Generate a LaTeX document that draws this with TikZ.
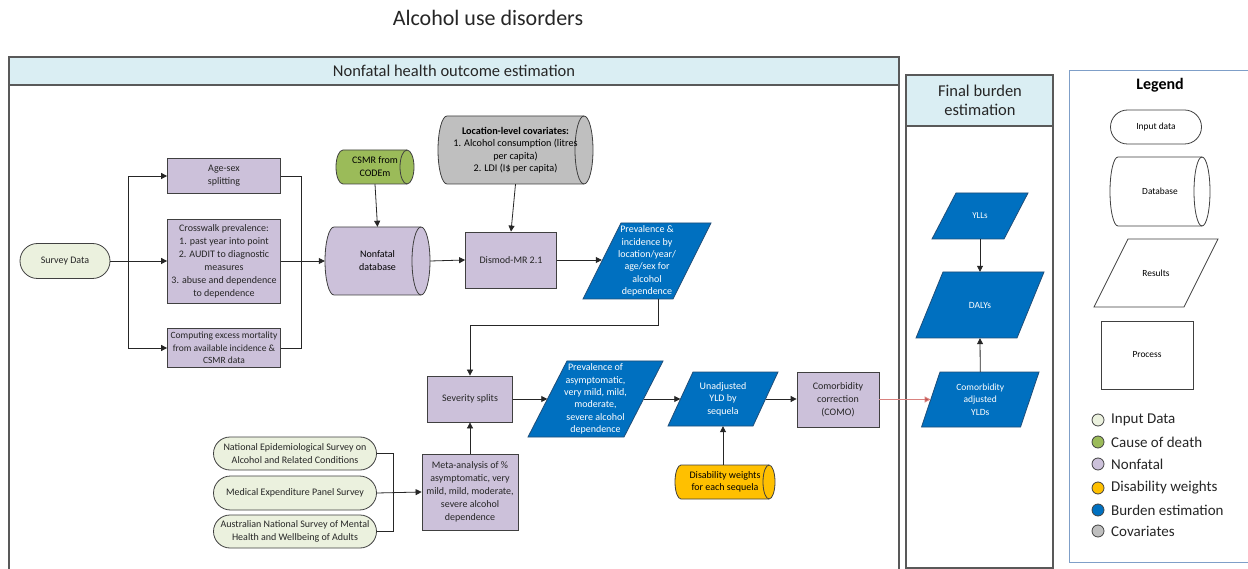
\documentclass[tikz,border=0pt]{standalone}
\usepackage{fontspec}
\setmainfont{Carlito}
\usetikzlibrary{arrows.meta,shapes.misc,calc}
\definecolor{purp}{HTML}{CCC1DA}
\definecolor{lgreen}{HTML}{EBF1DE}
\definecolor{cgreen}{HTML}{9BBB59}
\definecolor{cgrey}{HTML}{BFBFBF}
\definecolor{corange}{HTML}{FFC000}
\definecolor{cblue}{HTML}{0070C0}
\definecolor{bedge}{HTML}{1F4E79}
\definecolor{hdr}{HTML}{DAEEF3}
\definecolor{edgec}{HTML}{404040}
\definecolor{linec}{HTML}{262626}
\definecolor{framec}{HTML}{595959}
\definecolor{legc}{HTML}{7F9FC8}
\definecolor{redl}{HTML}{D9827F}
\definecolor{redh}{HTML}{C0504D}
\newcommand\fsz[2]{\fontsize{#1}{#2}\selectfont}
% parallelogram: name, top-left x, top-right x, top y, bottom y, slant, font, text
\newcommand\para[8]{%
  \draw[bedge, line width=0.8pt, fill=cblue] (#2,#4) -- (#3,#4) -- (#3-#6,#5) -- (#2-#6,#5) -- cycle;
  \node[inner sep=0, minimum width={#3-#2}, minimum height={#5-#4}, align=center, text=white, font=#7] (#1) at ({(#2+#3-#6)/2},{(#4+#5)/2}) {#8};}
% legend parallelogram (white)
\newcommand\wpara[8]{%
  \draw[edgec, line width=0.8pt, fill=white] (#2,#4) -- (#3,#4) -- (#3-#6,#5) -- (#2-#6,#5) -- cycle;
  \node[inner sep=0, minimum width={#3-#2}, minimum height={#5-#4}, align=center, font=#7] (#1) at ({(#2+#3-#6)/2},{(#4+#5)/2}) {#8};}
% cylinder: name, xl, yt, xr, yb, rx, fill, font, text
\newcommand\cyl[9]{%
  \pgfmathsetmacro\cylry{(#5-#3)/2}%
  \draw[edgec, line width=0.8pt, fill=#7] (#2+#6,#3) -- (#4-#6,#3)
     arc[start angle=-90, end angle=90, x radius=#6, y radius=\cylry] -- (#2+#6,#5)
     arc[start angle=90, end angle=270, x radius=#6, y radius=\cylry] -- cycle;
  \draw[edgec, line width=0.8pt] (#4-#6,#3) arc[start angle=270, end angle=90, x radius=#6, y radius=\cylry];
  \node[inner sep=0, minimum width={#4-#2}, minimum height={#5-#3}, align=center, font=#8] (#1) at ({(#2+#4)/2},{(#3+#5)/2}) {#9};}
\begin{document}
\begin{tikzpicture}[x=1pt,y=-1pt,
  font=\fsz{10}{13},
  proc/.style={draw=edgec, fill=purp, line width=0.8pt, align=center, inner sep=0, text=black!85},
  inp/.style={rounded rectangle, draw=edgec, fill=lgreen, line width=0.8pt, align=center, inner sep=0, text=black!85},
  ln/.style={draw=linec, line width=0.8pt},
  arr/.style={draw=linec, line width=0.8pt, -{Triangle[length=6pt,width=6pt]}},
  frame/.style={draw=framec, line width=1.2pt},
  legdot/.style={circle, draw=edgec, line width=0.8pt, minimum size=12pt, inner sep=0},
  legtxt/.style={anchor=west, inner sep=0, font=\fsz{15}{17}, text=black!85}]
\useasboundingbox (0,0) rectangle (1248,569);
\fill[white] (0,0) rectangle (1248,569);

% title
\node[font=\fsz{22}{25}, text=black!85] (title) at (488,18) {Alcohol use disorders};

% frames
\draw[frame] (9,57) rectangle (899,580);
\draw[frame, fill=hdr] (9,57) rectangle (899,85);
\node[font=\fsz{16.5}{18}, text=black!85] (nfh) at (454,71) {Nonfatal health outcome estimation};

\draw[frame] (906,75) rectangle (1053,568);
\draw[frame, fill=hdr] (906,75) rectangle (1053,126);
\node[font=\fsz{16.5}{19}, align=center, text=black!85] (fbh) at (980,100) {Final burden\\estimation};

\draw[draw=legc, line width=0.9pt] (1069,70) rectangle (1262,562);
\node[font=\bfseries\fsz{16}{18}] (legt) at (1160,85) {Legend};

% left column
\node[inp, minimum width=90pt, minimum height=35pt] (survey) at (65,261) {Survey Data};
\node[proc, minimum width=113pt, minimum height=35pt] (age) at (224,176) {Age-sex\\splitting};
\node[proc, minimum width=113pt, minimum height=84pt] (cross) at (224,261)
  {Crosswalk prevalence:\\1. past year into point\\2. AUDIT to diagnostic\\measures\\3. abuse and dependence\\to dependence};
\node[proc, minimum width=113pt, minimum height=39pt, font=\fsz{9.5}{12.5}] (cem) at (224,348)
  {Computing excess mortality\\from available incidence \&\\CSMR data};

\coordinate (split) at (128,261);
\coordinate (merge) at (301,261);
\draw[arr] (survey.east) -- (cross.west);
\draw[arr] (split) |- (age.west);
\draw[arr] (split) |- (cem.west);
\draw[ln] (age.east) -| (merge);
\draw[ln] (cem.east) -| (merge);

% databases
\cyl{ndb}{325}{227}{430}{295}{9}{purp}{\fsz{10}{13}}{Nonfatal\\database}
\cyl{csmr}{336}{150}{414}{184}{7}{cgreen}{\fsz{10}{13}}{CSMR from\\CODEm}
\cyl{cov}{438}{116}{593}{184}{9}{cgrey}{\fsz{10.2}{12.5}}{\textbf{Location-level covariates:}\\1. Alcohol consumption (litres\\per capita)\\2. LDI (I\$ per capita)}
\draw[arr] (cross.east) -- (ndb.west);
\draw[arr] (csmr.south) -- (ndb.north);

\node[proc, minimum width=91pt, minimum height=56pt] (dismod) at (511,260) {Dismod-MR 2.1};
\draw[arr] (cov.south) -- (dismod.north);
\draw[arr] (ndb.east) -- (dismod.west);

\para{prev}{621}{711}{223}{299}{38}{\fsz{10}{12.3}}{Prevalence \&\\incidence by\\location/year/\\age/sex for\\alcohol\\dependence}
\draw[arr] (dismod.east) -- (dismod.east -| prev.west);

\node[proc, minimum width=85pt, minimum height=46pt] (sev) at (470,399) {Severity splits};
\draw[arr] ([xshift=11pt]prev.south) -- ++(0,26) -| (sev.north);

\para{pasym}{567}{663}{361}{437}{39}{\fsz{10}{12.3}}{Prevalence of\\asymptomatic,\\very mild, mild,\\moderate,\\severe alcohol\\dependence}
\draw[arr] (sev.east) -- (pasym.west);

\para{uyld}{693}{778}{372}{426}{25}{\fsz{10}{12.5}}{Unadjusted\\YLD by\\sequela}
\draw[arr] (pasym.east) -- (uyld.west);

\node[proc, minimum width=82pt, minimum height=55pt] (como) at (838,399.5) {Comorbidity\\correction\\(COMO)};
\draw[arr] (uyld.east) -- (uyld.east -| como.west);

\cyl{dw}{675}{465}{775}{499}{6}{corange}{\fsz{10}{12.5}}{Disability weights\\for each sequela}
\draw[arr] ([xshift=-2pt]dw.north) -- ([xshift=-2pt]dw.north |- uyld.south);

% bottom-left surveys
\node[inp, minimum width=163pt, minimum height=33pt] (nesarc) at (295,453.5) {National Epidemiological Survey on\\Alcohol and Related Conditions};
\node[inp, minimum width=163pt, minimum height=34pt] (meps) at (295,493) {Medical Expenditure Panel Survey};
\node[inp, minimum width=163pt, minimum height=33pt] (aus) at (295,531.5) {Australian National Survey of Mental\\Health and Wellbeing of Adults};
\node[proc, minimum width=96pt, minimum height=76pt] (meta) at (470,492)
  {Meta-analysis of \%\\asymptomatic, very\\mild, mild, moderate,\\severe alcohol\\dependence};
\coordinate (m2) at (393,493);
\draw[ln] (nesarc.east) -| (m2);
\draw[ln] (aus.east) -| (m2);
\draw[arr] (meps.east) -- (meta.west);
\draw[arr] (meta.north) -- (sev.south);

% final burden
\para{ylls}{956}{1028}{193}{239}{24}{\fsz{9}{11}}{YLLs}
\para{dalys}{943}{1044}{272}{338}{27}{\fsz{9.5}{11}}{DALYs}
\para{cayld}{940}{1039}{372}{427}{18.5}{\fsz{9.5}{12.5}}{Comorbidity\\adjusted\\YLDs}
\draw[arr] (ylls.south) -- (dalys.north);
\draw[arr] (cayld.north) -- (dalys.south);
\draw[draw=redl, line width=0.9pt, -{Triangle[length=6pt,width=6pt,fill=redh]}] (como.east) -- (como.east -| cayld.west);

% legend shapes
\node[rounded rectangle, draw=edgec, line width=0.8pt, fill=white, minimum width=91pt, minimum height=34pt, inner sep=0, font=\fsz{9.4}{11}] (lin) at (1156,127) {Input data};
\cyl{ldb}{1110}{157}{1210}{226}{8}{white}{\fsz{9.4}{11}}{Database}
\wpara{lres}{1128}{1218}{239}{307}{34}{\fsz{9.4}{11}}{Results}
\node[draw=edgec, line width=0.8pt, fill=white, minimum width=92pt, minimum height=68pt, inner sep=0, font=\fsz{9.4}{11}] (lproc) at (1147,355) {Process};

% legend colours
\node[legdot, fill=lgreen] (d1) at (1098,420) {};
\node[legdot, fill=cgreen] (d2) at (1098,442) {};
\node[legdot, fill=purp] (d3) at (1098,464) {};
\node[legdot, fill=corange] (d4) at (1098,488) {};
\node[legdot, fill=cblue] (d5) at (1098,510) {};
\node[legdot, fill=cgrey] (d6) at (1098,531) {};
\node[legtxt] (t1) at (1111,420) {Input Data};
\node[legtxt] (t2) at (1111,442) {Cause of death};
\node[legtxt] (t3) at (1111,464) {Nonfatal};
\node[legtxt] (t4) at (1111,488) {Disability weights};
\node[legtxt] (t5) at (1111,510) {Burden estimation};
\node[legtxt] (t6) at (1111,531) {Covariates};
\end{tikzpicture}
\end{document}
